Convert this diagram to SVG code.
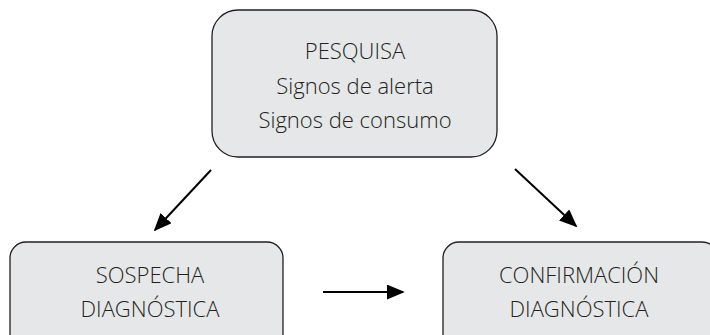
<svg xmlns="http://www.w3.org/2000/svg" width="710" height="335" viewBox="0 0 710 335">
<style>
.box{fill:#e6e7e8;stroke:#231f20;stroke-width:1.3}
.t{font-family:"Open Sans","Noto Sans",sans-serif;font-size:22px;font-weight:300;fill:#231f20;text-anchor:middle}
.c{stroke:#000;stroke-width:2;fill:none}
</style>
<defs>
<marker id="ah" viewBox="0 0 10 10" refX="9" refY="5" markerWidth="18" markerHeight="15" markerUnits="userSpaceOnUse" orient="auto" preserveAspectRatio="none">
<path d="M0,0 L10,5 L0,10 z" fill="#000"/>
</marker>
</defs>
<rect width="710" height="335" fill="#fff"/>
<g id="pesquisa">
<rect class="box" x="212" y="10" width="285" height="147" rx="26"/>
<text class="t" x="355" y="59">PESQUISA</text>
<text class="t" x="355" y="94">Signos de alerta</text>
<text class="t" x="355" y="128">Signos de consumo</text>
</g>
<g id="sospecha">
<rect class="box" x="10" y="242" width="273" height="110" rx="16"/>
<text class="t" x="150" y="283">SOSPECHA</text>
<text class="t" x="150" y="317">DIAGNÓSTICA</text>
</g>
<g id="confirmacion">
<rect class="box" x="443" y="242" width="275" height="110" rx="16"/>
<text class="t" x="579" y="283">CONFIRMACIÓN</text>
<text class="t" x="579" y="317">DIAGNÓSTICA</text>
</g>
<g id="connectors">
<line class="c" x1="211" y1="170" x2="155" y2="230" marker-end="url(#ah)"/>
<line class="c" x1="515" y1="169" x2="576" y2="226" marker-end="url(#ah)"/>
<line class="c" x1="323" y1="292" x2="403" y2="292" marker-end="url(#ah)"/>
</g>
</svg>
